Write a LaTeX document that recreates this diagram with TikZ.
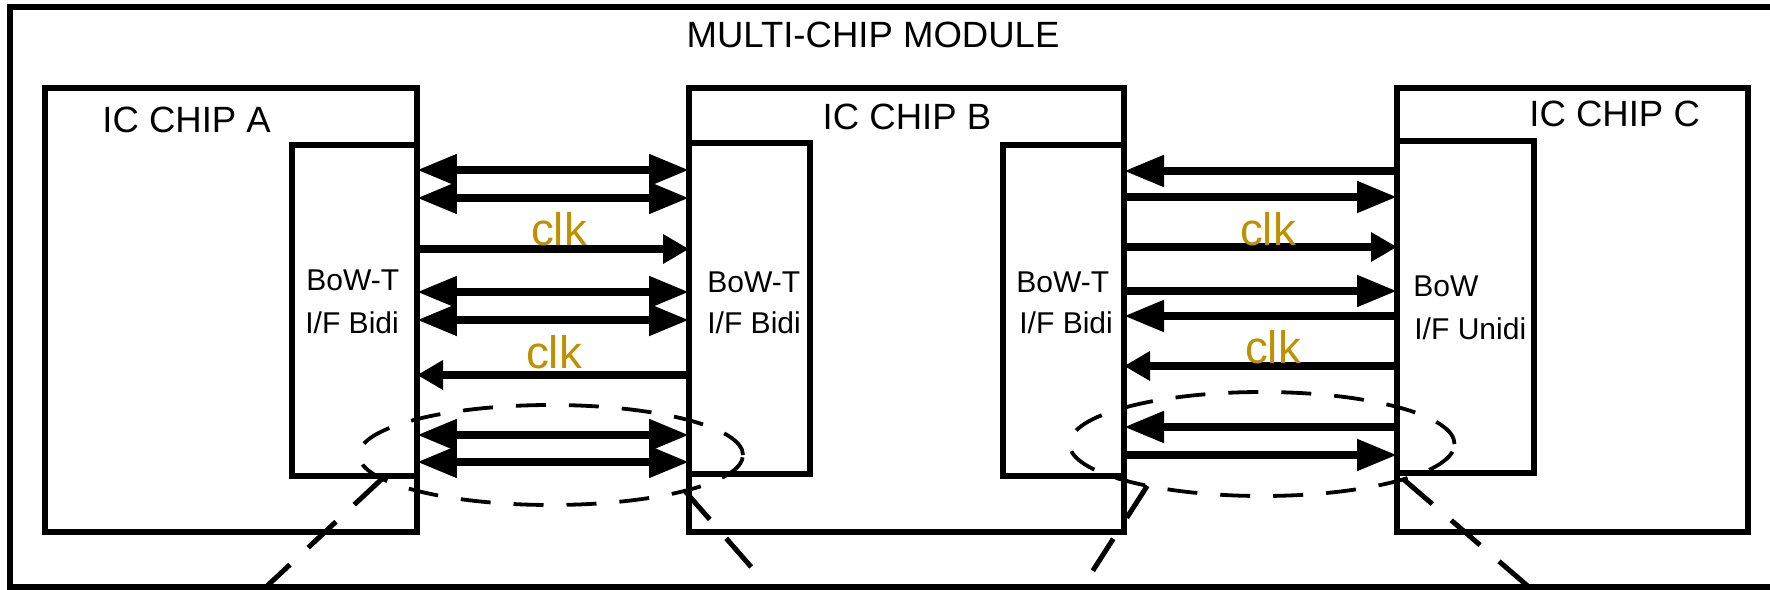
\documentclass[tikz,border=0pt]{standalone}
\usepackage{fontspec}
\setmainfont{Liberation Sans}
\usetikzlibrary{arrows.meta,shapes.geometric}
\definecolor{clkgold}{RGB}{191,144,0}
\newdimen\px \px=0.02cm
\tikzset{
  box/.style={draw, line width=5.5\px, inner sep=0pt, outer sep=0pt},
  title/.style={font=\fontsize{20.8pt}{24pt}\selectfont, inner sep=0pt, anchor=base},
  iftext/.style={font=\fontsize{17.1pt}{20pt}\selectfont, inner sep=0pt, anchor=base west},
  clklabel/.style={font=\fontsize{26pt}{30pt}\selectfont, text=clkgold, inner sep=0pt, anchor=base},
  data/.style={line width=8\px, >={Triangle[length=0.8cm,width=0.6cm]}},
  clkline/.style={line width=8\px, >={Triangle[length=0.52cm,width=0.56cm]}},
  ring/.style={draw, ellipse, dash pattern=on 0.6cm off 0.46cm, line width=3.8\px, inner sep=0pt, outer sep=0pt},
  zoomline/.style={line width=5\px, dash pattern=on 0.76cm off 0.5cm}
}
\begin{document}
\begin{tikzpicture}[x=0.02cm,y=-0.02cm]
\useasboundingbox (0,0) rectangle (1770,590);
\clip (0,0) rectangle (1770,590);
\fill[white] (0,0) rectangle (1770,590);

% outer module frame
\node[box, minimum width=1790\px, minimum height=580\px] (mcm) at (905,297) {};
\node[title] (mcmlabel) at (873,48) {MULTI-CHIP MODULE};

% chips
\node[box, minimum width=372\px, minimum height=444\px] (chipA) at (231,310) {};
\node[box, minimum width=125\px, minimum height=331\px] (ifA) at (354.5,310.5) {};
\node[box, minimum width=435\px, minimum height=444\px] (chipB) at (906.5,310) {};
\node[box, minimum width=121\px, minimum height=331\px] (ifBl) at (749.5,308.5) {};
\node[box, minimum width=121\px, minimum height=331\px] (ifBr) at (1063.5,310.5) {};
\node[box, minimum width=351\px, minimum height=444\px] (chipC) at (1572.5,310) {};
\node[box, minimum width=137\px, minimum height=332\px] (ifC) at (1465.5,307) {};

\node[title, anchor=base west] (labA) at (102,133) {IC CHIP A};
\node[title] (labB) at (907,130) {IC CHIP B};
\node[title, anchor=base west] (labC) at (1529,127) {IC CHIP C};

\node[iftext] (tA1) at (306,291) {BoW-T};
\node[iftext] (tA2) at (305,334) {I/F Bidi};
\node[iftext] (tB1) at (707,293) {BoW-T};
\node[iftext] (tB2) at (707,334) {I/F Bidi};
\node[iftext] (tB3) at (1016,293) {BoW-T};
\node[iftext] (tB4) at (1019,334) {I/F Bidi};
\node[iftext] (tC1) at (1413,297) {BoW};
\node[iftext] (tC2) at (1414,340) {I/F Unidi};

% A -- B links
\draw[data,<->] (ifA.east |- 0,170) -- (ifBl.west |- 0,170);
\draw[data,<->] (ifA.east |- 0,198) -- (ifBl.west |- 0,198);
\draw[clkline,->] (ifA.east |- 0,249) -- (ifBl.west |- 0,249);
\draw[data,<->] (ifA.east |- 0,292) -- (ifBl.west |- 0,292);
\draw[data,<->] (ifA.east |- 0,320) -- (ifBl.west |- 0,320);
\draw[clkline,<-] (ifA.east |- 0,375) -- (ifBl.west |- 0,375);
\draw[data,<->] (ifA.east |- 0,435) -- (ifBl.west |- 0,435);
\draw[data,<->] (ifA.east |- 0,462) -- (ifBl.west |- 0,462);
\node[clklabel] (clk1) at (559,246) {clk};
\node[clklabel] (clk2) at (554,369) {clk};

% B -- C links
\draw[data,<-] (ifBr.east |- 0,171) -- (ifC.west |- 0,171);
\draw[data,->] (ifBr.east |- 0,197) -- (ifC.west |- 0,197);
\draw[clkline,->] (ifBr.east |- 0,247) -- (ifC.west |- 0,247);
\draw[data,->] (ifBr.east |- 0,291) -- (ifC.west |- 0,291);
\draw[data,<-] (ifBr.east |- 0,316) -- (ifC.west |- 0,316);
\draw[clkline,<-] (ifBr.east |- 0,366) -- (ifC.west |- 0,366);
\draw[data,<-] (ifBr.east |- 0,427) -- (ifC.west |- 0,427);
\draw[data,->] (ifBr.east |- 0,455) -- (ifC.west |- 0,455);
\node[clklabel] (clk3) at (1268,246) {clk};
\node[clklabel] (clk4) at (1273,364) {clk};

% highlighted link groups and zoom lines
\node[ring, minimum width=384\px, minimum height=100\px] (ringAB) at (551,455) {};
\node[ring, minimum width=385\px, minimum height=104\px] (ringBC) at (1262,444) {};
\coordinate (z1) at (252,600);
\coordinate (z2) at (780,600);
\coordinate (z3) at (1074,600);
\coordinate (z4) at (1544,600);
\draw[zoomline] (ringAB.188) -- (z1);
\draw[zoomline] (ringAB.-15) -- (z2);
\draw[zoomline] (ringBC.200) -- (z3);
\draw[zoomline] (ringBC.-14.6) -- (z4);
\end{tikzpicture}
\end{document}
